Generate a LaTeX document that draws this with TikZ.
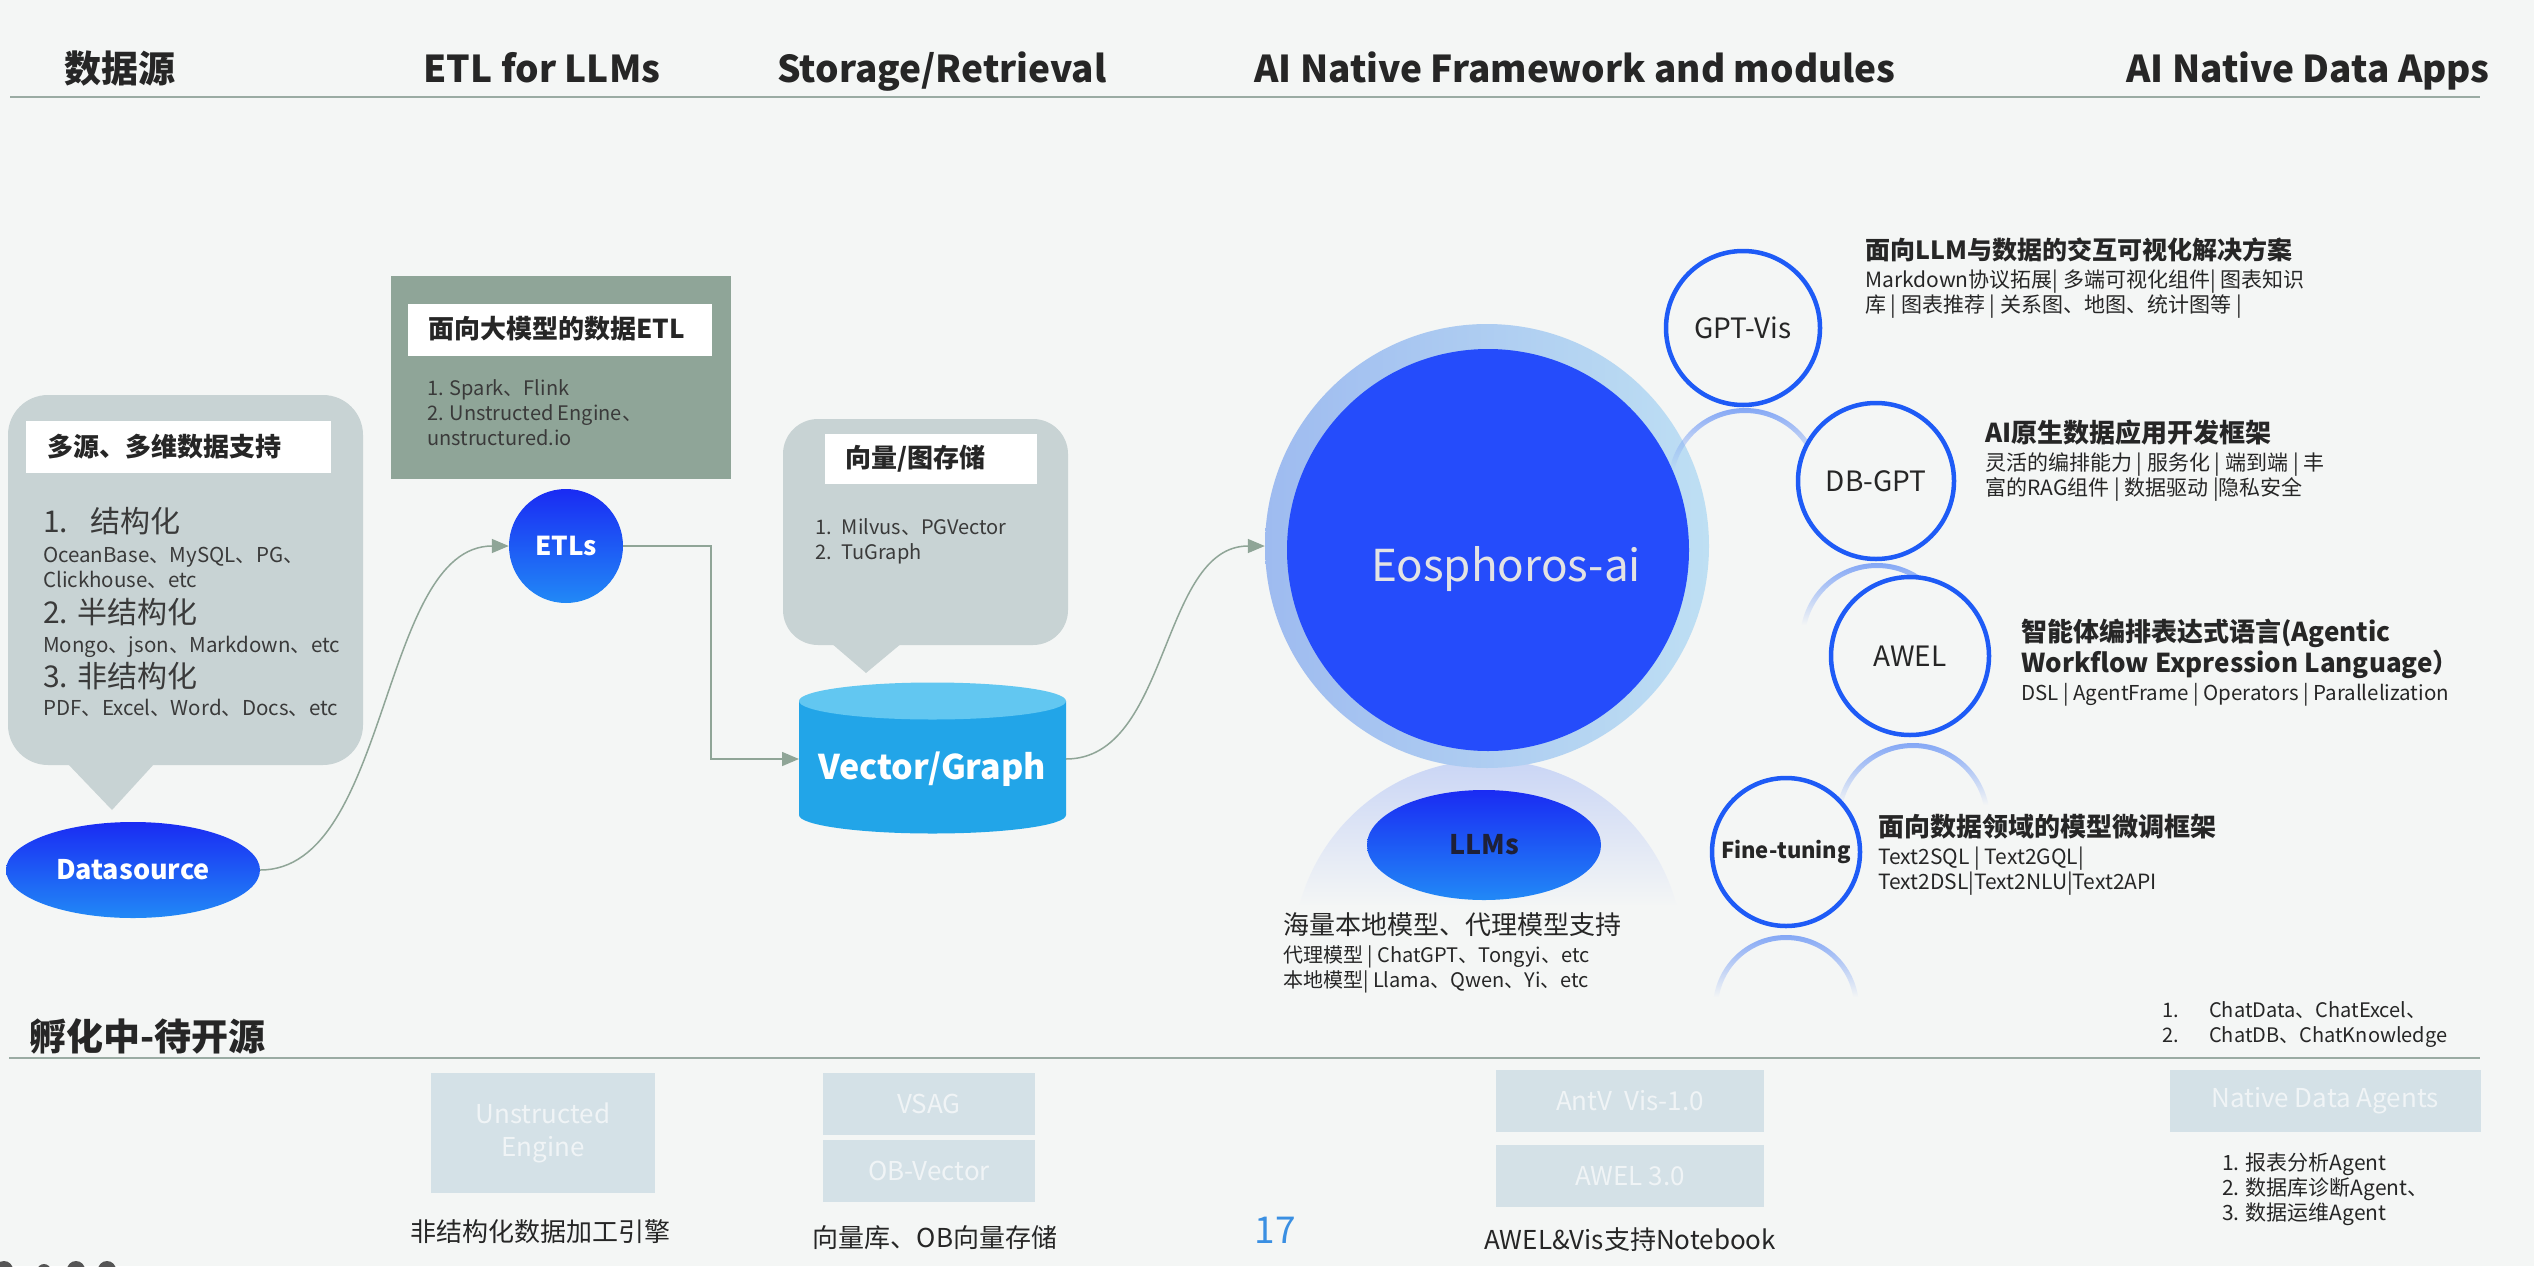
\documentclass[tikz,border=0pt]{standalone}
\usepackage{fontspec}
\setmainfont{Noto Sans CJK SC}
\usetikzlibrary{arrows.meta,shapes.geometric,fadings}
\definecolor{bg}{HTML}{F4F6F5}
\definecolor{txt}{HTML}{262626}
\definecolor{bodyc}{HTML}{3A3A3A}
\definecolor{rulec}{HTML}{9AABA3}
\definecolor{bubble}{HTML}{C8D3D4}
\definecolor{etlbox}{HTML}{8FA598}
\definecolor{connc}{HTML}{8FA597}
\definecolor{deepblue}{HTML}{1A2BF3}
\definecolor{lightblue}{HTML}{2189F6}
\definecolor{core}{HTML}{254CFB}
\definecolor{halol}{HTML}{9EBBF0}
\definecolor{halor}{HTML}{BEDFF3}
\definecolor{ringblue}{HTML}{1E5BF6}
\definecolor{reflblue}{HTML}{7FA4F5}
\definecolor{glow}{HTML}{C9D5F5}
\definecolor{cyltop}{HTML}{62C7F1}
\definecolor{cylbody}{HTML}{22A5E8}
\definecolor{pale}{HTML}{D4E1E7}
\definecolor{paletext}{HTML}{F0F4F6}
\definecolor{pagenum}{HTML}{3A8FE2}
\definecolor{eostext}{HTML}{E3E3E3}
\definecolor{llmtext}{HTML}{1E2038}
\definecolor{iconc}{HTML}{555555}
\tikzfading[name=fadedown, top color=transparent!0, bottom color=transparent!100]
\newcommand{\fsz}[1]{\fontsize{#1}{#1}\selectfont}
\newcommand{\reflarc}[4]{% cx, cy, r, r-5
  \begin{scope}[even odd rule]
    \clip (#1,#2) circle (#3pt) (#1,#2) circle (#4pt);
    \fill[reflblue, path fading=fadedown] (#1-#3-3,#2-#3-3) rectangle (#1+#3+3,#2-#3+62);
  \end{scope}}
\begin{document}
\begin{tikzpicture}[x=1pt,y=-1pt,
  lt/.style n args={2}{font={\fsz{#1}#2}, text=txt, inner sep=0pt, anchor=base west, yshift={-0.36*#1}},
  ct/.style n args={2}{font={\fsz{#1}#2}, text=txt, inner sep=0pt, anchor=base, yshift={-0.36*#1}},
  lbl/.style={fill=white, inner sep=0pt, anchor=north west},
  gradfill/.style={top color=deepblue, bottom color=lightblue},
  ringc/.style={circle, draw=ringblue, line width=4.5pt, fill=bg, inner sep=0pt, text=txt},
  palebox/.style={fill=pale, inner sep=0pt, text=paletext, font=\fsz{26}},
  connarrow/.style={draw=connc, line width=1.5pt, -{Triangle[length=17pt,width=14pt]}},
  rulel/.style={draw=rulec, line width=2pt}
]
\fill[bg] (0,0) rectangle (2534,1266);
\useasboundingbox (0,0) rectangle (2534,1266);

% headers
\node[ct={37}{\bfseries}] (h1) at (120,69) {数据源};
\node[ct={37}{\bfseries}] (h2) at (542,69) {ETL for LLMs};
\node[ct={37}{\bfseries}] (h3) at (942,69) {Storage/Retrieval};
\node[ct={37}{\bfseries}] (h4) at (1575,69) {AI Native Framework and modules};
\node[ct={37}{\bfseries}] (h5) at (2308,69) {AI Native Data Apps};
\draw[rulel] (10,97) -- (2480,97);

% left bubble
\fill[bubble, rounded corners=40pt] (8,395) rectangle (363,765);
\fill[bubble] (67,763) -- (155,763) -- (112,810) -- cycle;
\node[lbl, minimum width=305pt, minimum height=52pt] (lab1) at (26,421) {};
\node[lt={26}{\bfseries}] (t1) at (47,447) {多源、多维数据支持};
\node[lt={30}{}, text=bodyc] (l1) at (43,522) {1.\hspace{22pt}结构化};
\node[lt={20.5}{}, text=bodyc] (l1a) at (43,555) {OceanBase、MySQL、PG、};
\node[lt={20.5}{}, text=bodyc] (l1b) at (43,580) {Clickhouse、etc};
\node[lt={30}{}, text=bodyc] (l2) at (43,613) {2. 半结构化};
\node[lt={20.5}{}, text=bodyc] (l2a) at (43,645) {Mongo、json、Markdown、etc};
\node[lt={30}{}, text=bodyc] (l3) at (43,677) {3. 非结构化};
\node[lt={20.5}{}, text=bodyc] (l3a) at (43,708) {PDF、Excel、Word、Docs、etc};

\node[ellipse, gradfill, minimum width=254pt, minimum height=96pt, inner sep=0pt,
      font={\fsz{27}\bfseries}, text=white] (ds) at (133,870) {Datasource};

% ETL box
\node[fill=etlbox, anchor=north west, minimum width=340pt, minimum height=203pt, inner sep=0pt] (etlb) at (391,276) {};
\node[lbl, minimum width=304pt, minimum height=52pt] (lab2) at (408,304) {};
\node[lt={26}{\bfseries}] (t2) at (428,329) {面向大模型的数据ETL};
\node[lt={20}{}, text=bodyc] (e1) at (427,388) {1. Spark、Flink};
\node[lt={20}{}, text=bodyc] (e2) at (427,413) {2. Unstructed Engine、};
\node[lt={20}{}, text=bodyc] (e3) at (427,438) {unstructured.io};
\node[circle, gradfill, minimum size=114pt, inner sep=0pt, font={\fsz{26}\bfseries}, text=white] (etls) at (566,546) {ETLs};

% storage bubble
\fill[bubble, rounded corners=35pt] (783,419) rectangle (1068,645);
\fill[bubble] (831,643) -- (902,643) -- (866,673) -- cycle;
\node[lbl, minimum width=212pt, minimum height=50pt] (lab3) at (825,434) {};
\node[lt={26}{\bfseries}] (t3) at (845,458) {向量/图存储};
\node[lt={20}{}, text=bodyc] (s1) at (815,527) {1.\hspace{10pt}Milvus、PGVector};
\node[lt={20}{}, text=bodyc] (s2) at (815,552) {2.\hspace{10pt}TuGraph};

% cylinder
\fill[cylbody] (799,701) -- (799,815) arc[start angle=180, end angle=0, x radius=133.5, y radius=18.5] -- (1066,701) -- cycle;
\fill[cyltop] (932.5,701) ellipse [x radius=133.5, y radius=18.5];
\coordinate (cylL) at (799,759);
\coordinate (cylR) at (1066,759);
\node[ct={34}{\bfseries}, text=white] (cyl) at (932,767) {Vector/Graph};

% LLM glow
\begin{scope}
  \clip (1488,955) circle (195pt);
  \fill[glow, path fading=fadedown] (1290,757) rectangle (1690,905);
\end{scope}

% Eosphoros
\node[circle, minimum size=444pt, inner sep=0pt, left color=halol, right color=halor] (halo) at (1487,546) {};
\node[circle, minimum size=402pt, inner sep=0pt, fill=core] (eos) at (1488,550) {};
\node[ct={44}{}, text=eostext] (eostxt) at (1506,566) {Eosphoros-ai};

\node[ellipse, gradfill, minimum width=234pt, minimum height=110pt, inner sep=0pt,
      font={\fsz{27}\bfseries}, text=llmtext] (llms) at (1484,845) {LLMs};
\node[lt={26}{}] (m1) at (1283,925) {海量本地模型、代理模型支持};
\node[lt={20}{}] (m2) at (1283,955) {代理模型 | ChatGPT、Tongyi、etc};
\node[lt={20}{}] (m3) at (1283,980) {本地模型| Llama、Qwen、Yi、etc};

% reflections
\reflarc{1745}{485}{77}{72}
\reflarc{1877}{640}{77}{72}
\reflarc{1913}{820}{77}{72}
\reflarc{1786}{1008}{73}{68}

% rings
\node[ringc, minimum size=154pt, font=\fsz{28}] (gpt) at (1743,328) {GPT-Vis};
\node[ringc, minimum size=156pt, font=\fsz{28}] (dbgpt) at (1876,481) {DB-GPT};
\node[ringc, minimum size=158pt, font=\fsz{28}] (awel) at (1910,656) {AWEL};
\node[ringc, minimum size=148pt, font={\fsz{22}\bfseries}] (ft) at (1786,852) {Fine-tuning};

\node[lt={25}{\bfseries}] (r1) at (1865,250) {面向LLM与数据的交互可视化解决方案};
\node[lt={21}{}] (r1a) at (1865,280) {Markdown协议拓展| 多端可视化组件| 图表知识};
\node[lt={21}{}] (r1b) at (1865,305) {库 | 图表推荐 | 关系图、地图、统计图等 |};
\node[lt={26}{\bfseries}] (r2) at (1985,433) {AI原生数据应用开发框架};
\node[lt={21}{}] (r2a) at (1985,463) {灵活的编排能力 | 服务化 | 端到端 | 丰};
\node[lt={21}{}] (r2b) at (1985,488) {富的RAG组件 | 数据驱动 |隐私安全};
\node[lt={26}{\bfseries}] (r3) at (2021,632) {智能体编排表达式语言(Agentic};
\node[lt={26}{\bfseries}] (r3x) at (2021,663) {Workflow Expression Language）};
\node[lt={20.5}{}] (r3a) at (2021,693) {DSL | AgentFrame | Operators | Parallelization};
\node[lt={26}{\bfseries}] (r4) at (1878,827) {面向数据领域的模型微调框架};
\node[lt={21}{}] (r4a) at (1878,857) {Text2SQL | Text2GQL|};
\node[lt={21}{}] (r4b) at (1878,882) {Text2DSL|Text2NLU|Text2API};

% connectors
\draw[connarrow] (ds.east) .. controls (390,870) and (380,546) .. (etls.west);
\draw[connarrow] (etls.east) -| (711,759) -- (cylL);
\draw[connarrow] (cylR) .. controls (1170,759) and (1160,546) .. (halo.west);

% incubating section
\node[lt={37}{\bfseries}] (inc) at (29,1037) {孵化中-待开源};
\draw[rulel] (9,1058) -- (2480,1058);
\node[palebox, minimum width=224pt, minimum height=120pt, align=center, font=\fontsize{26}{33}\selectfont] (ue) at (543,1133) {Unstructed\\Engine};
\node[palebox, minimum width=212pt, minimum height=62pt] (vsag) at (929,1104) {VSAG};
\node[palebox, minimum width=212pt, minimum height=62pt] (obv) at (929,1171) {OB-Vector};
\node[palebox, minimum width=268pt, minimum height=62pt] (antv) at (1630,1101) {AntV\hspace{6pt} Vis-1.0};
\node[palebox, minimum width=268pt, minimum height=62pt] (awel3) at (1630,1176) {AWEL 3.0};
\node[palebox, minimum width=311pt, minimum height=62pt] (nda) at (2325,1101) {Native Data Agents};

\node[ct={26}{}] (c1) at (540,1232) {非结构化数据加工引擎};
\node[ct={26}{}] (c2) at (935,1238) {向量库、OB向量存储};
\node[ct={26}{}] (c3) at (1630,1240) {AWEL\&Vis支持Notebook};
\node[ct={37}{}, text=pagenum] (pg) at (1275,1230) {17};

\node[lt={20}{}] (a1n) at (2162,1010) {1.};
\node[lt={20}{}] (a1) at (2209,1010) {ChatData、ChatExcel、};
\node[lt={20}{}] (a2n) at (2162,1035) {2.};
\node[lt={20}{}] (a2) at (2209,1035) {ChatDB、ChatKnowledge};
\node[lt={21}{}] (g1) at (2222,1163) {1. 报表分析Agent};
\node[lt={21}{}] (g2) at (2222,1188) {2. 数据库诊断Agent、};
\node[lt={21}{}] (g3) at (2222,1213) {3. 数据运维Agent};

% slide control icons (cut off)
\fill[iconc] (4,1270) circle (9pt);
\fill[iconc] (44,1271) circle (7pt);
\fill[iconc] (76,1270) circle (9pt);
\fill[iconc] (107,1270) circle (9pt);
\end{tikzpicture}
\end{document}
